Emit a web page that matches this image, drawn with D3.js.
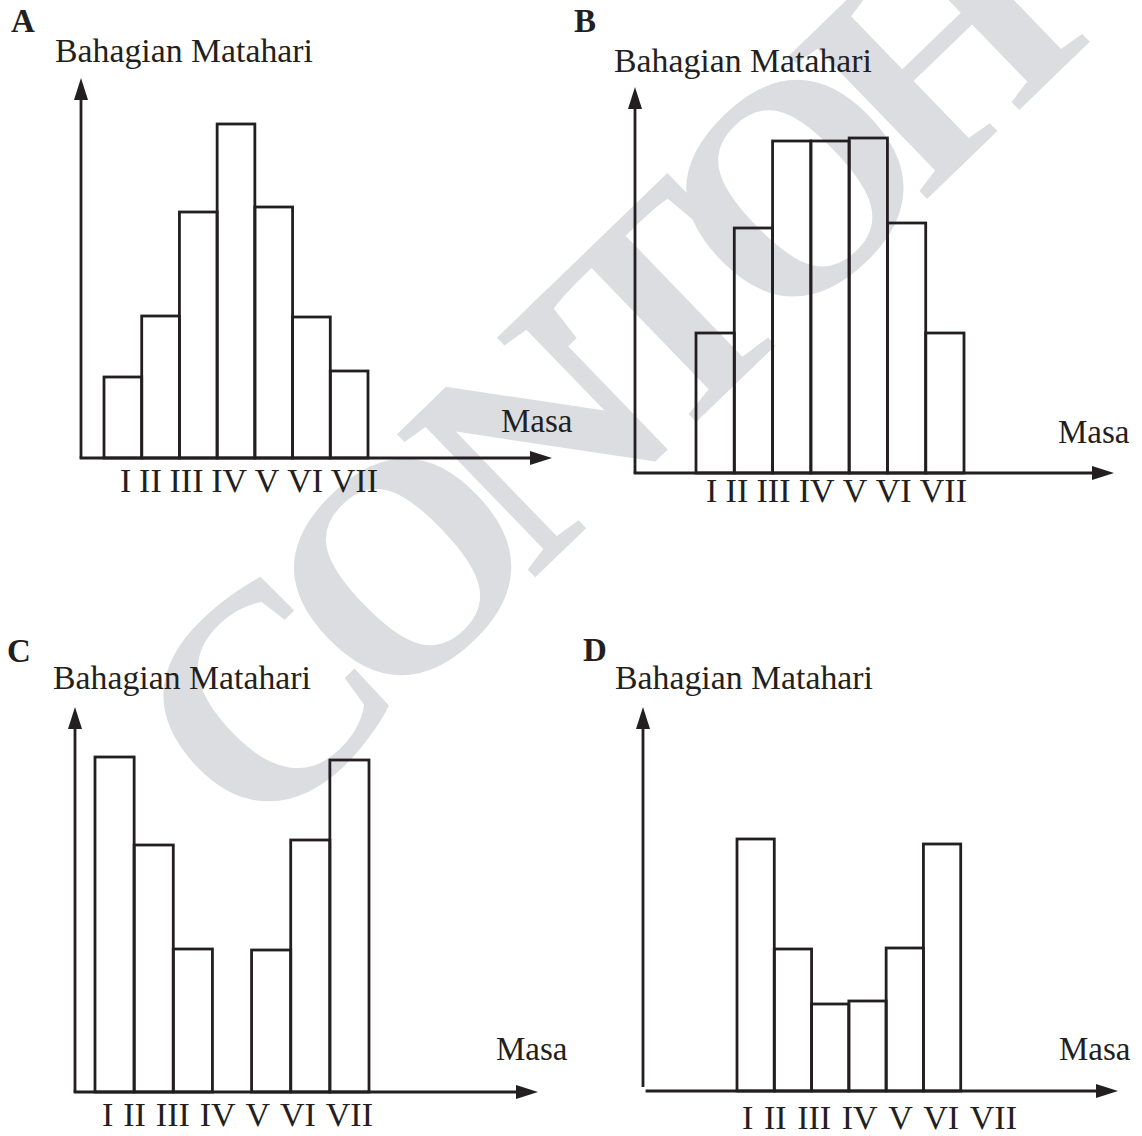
<!DOCTYPE html>
<html>
<head>
<meta charset="utf-8">
<script src="https://cdn.jsdelivr.net/npm/d3@7"></script>
<style>
  html, body { margin: 0; padding: 0; background: #fff; }
  svg { display: block; }
  text { font-family: "Liberation Serif", "Times New Roman", serif; fill: #231f20; }
</style>
</head>
<body>
<svg id="chart"></svg>
<script>
// four sketch histograms (arbitrary units)
var categories = ["I", "II", "III", "IV", "V", "VI", "VII"];
var valuesA = [81, 142, 246, 334, 251, 141, 87];
var valuesB = [140, 245, 332, 332, 335, 250, 140];
var valuesC = [335, 247, 143, null, 142, 252, 332];
var valuesD = [252, 142, 87, 90, 143, 247, null];
var panelLetters = ["A", "B", "C", "D"];
var yTitle = "Bahagian Matahari";
var xTitle = "Masa";
var watermark = "CONTOH";

var width = 1142, height = 1136;
var ink = "#231f20";

var svg = d3.select("#chart")
    .attr("width", width)
    .attr("height", height);

// watermark behind everything, tightly set on the diagonal
svg.append("text")
    .attr("transform", "translate(590,382) rotate(-44)")
    .attr("text-anchor", "middle")
    .attr("dominant-baseline", "central")
    .style("font-size", "304px")
    .style("font-weight", "bold")
    .style("letter-spacing", "-36px")
    .style("fill", "#dcdde0")
    .text(watermark);

// layout of each panel
var panels = [
  {letter: [11, 32], title: [55, 62], masa: [501, 432], ox: 81, oy: 458, yTop: 78, yBottom: 458, xStart: 81, xEnd: 552,
   bars: [104, 368], labels: [120, 378], labelY: 492, values: valuesA},
  {letter: [574, 32], title: [614, 72], masa: [1058, 443], ox: 635, oy: 473, yTop: 87, yBottom: 473, xStart: 635, xEnd: 1114,
   bars: [696, 964], labels: [706, 967], labelY: 502, values: valuesB},
  {letter: [7, 662], title: [53, 689], masa: [496, 1060], ox: 75, oy: 1092, yTop: 707, yBottom: 1092, xStart: 75, xEnd: 538,
   bars: [95, 369], labels: [102, 373], labelY: 1126, values: valuesC},
  {letter: [583, 661], title: [615, 689], masa: [1059, 1060], ox: 643, oy: 1091, yTop: 707, yBottom: 1087, xStart: 647, xEnd: 1118,
   bars: [737, 998], labels: [742, 1017], labelY: 1129, values: valuesD}
];

panels.forEach(function(p, i) {
  var g = svg.append("g");

  var x = d3.scaleBand()
      .domain(categories)
      .range(p.bars)
      .paddingInner(0)
      .paddingOuter(0);

  var y = d3.scaleLinear()
      .domain([0, 400])
      .range([p.oy, p.oy - 400]);

  var data = categories.map(function(c, j) { return {cat: c, v: p.values[j]}; })
      .filter(function(d) { return d.v != null; });

  g.selectAll("rect.bar")
      .data(data)
    .enter().append("rect")
      .attr("class", "bar")
      .attr("x", function(d) { return x(d.cat); })
      .attr("width", x.bandwidth())
      .attr("y", function(d) { return y(d.v); })
      .attr("height", function(d) { return y(0) - y(d.v); })
      .attr("fill", "none")
      .attr("stroke", ink)
      .attr("stroke-width", 2.8);

  // axes with arrow heads
  g.append("line")
      .attr("x1", p.ox).attr("x2", p.ox)
      .attr("y1", p.yBottom).attr("y2", p.yTop + 18)
      .attr("stroke", ink).attr("stroke-width", 2.8);
  g.append("path")
      .attr("d", "M" + p.ox + "," + p.yTop + "l-7,22h14z")
      .attr("fill", ink);

  g.append("line")
      .attr("x1", p.xStart - 1.4).attr("x2", p.xEnd - 18)
      .attr("y1", p.oy).attr("y2", p.oy)
      .attr("stroke", ink).attr("stroke-width", 2.8);
  g.append("path")
      .attr("d", "M" + p.xEnd + "," + p.oy + "l-22,-7v14z")
      .attr("fill", ink);

  // text
  g.append("text")
      .attr("x", p.letter[0]).attr("y", p.letter[1])
      .style("font-size", "33px").style("font-weight", "bold")
      .text(panelLetters[i]);

  g.append("text")
      .attr("x", p.title[0]).attr("y", p.title[1])
      .attr("textLength", 258)
      .attr("lengthAdjust", "spacingAndGlyphs")
      .style("font-size", "33px")
      .text(yTitle);

  g.append("text")
      .attr("x", p.masa[0]).attr("y", p.masa[1])
      .style("font-size", "33px")
      .text(xTitle);

  // category labels, spread between measured ends
  var lab = g.append("text")
      .attr("x", p.labels[0]).attr("y", p.labelY)
      .style("font-size", "34px");
  var spans = lab.selectAll("tspan")
      .data(categories)
    .enter().append("tspan")
      .text(function(d) { return d; });
  var total = 0;
  spans.each(function() { total += this.getComputedTextLength(); });
  var gap = (p.labels[1] - p.labels[0] - total) / (categories.length - 1);
  spans.attr("dx", function(d, j) { return j === 0 ? 0 : gap; });
});
</script>
</body>
</html>
